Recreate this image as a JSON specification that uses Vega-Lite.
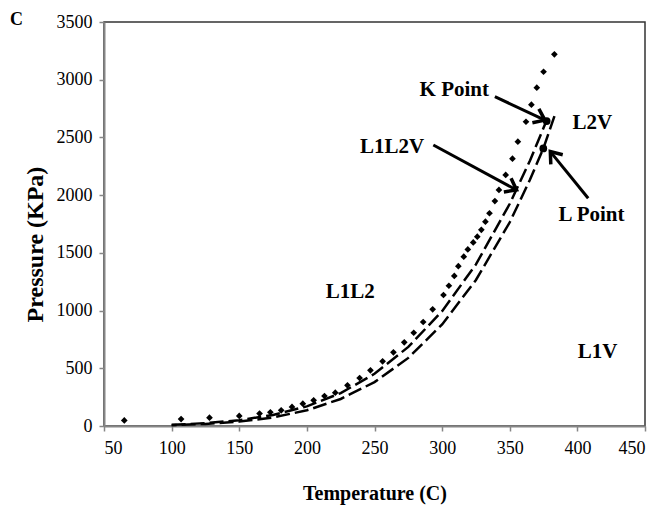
{
  "$schema": "https://vega.github.io/schema/vega-lite/v6.json",
  "width": 541,
  "height": 404,
  "autosize": "none",
  "padding": {"left": 104, "top": 22, "right": 18, "bottom": 87},
  "background": "white",
  "title": {
    "text": "C",
    "anchor": "start",
    "frame": "group",
    "font": "Liberation Serif",
    "fontSize": 18,
    "fontWeight": "bold",
    "color": "black",
    "dx": -94,
    "dy": 20
  },
  "config": {
    "view": {"stroke": "#333333", "strokeWidth": 1.5},
    "axis": {
      "grid": false,
      "domainColor": "#868686",
      "domainWidth": 2,
      "tickColor": "#868686",
      "tickSize": 5,
      "tickWidth": 1.5,
      "labelFont": "Liberation Serif",
      "labelFontSize": 18,
      "labelColor": "black",
      "titleFont": "Liberation Serif",
      "titleFontWeight": "bold",
      "titleColor": "black"
    }
  },
  "datasets": {
    "measured": [
      {"T": 65, "P": 48}, {"T": 107, "P": 60}, {"T": 128, "P": 72}, {"T": 150, "P": 87},
      {"T": 165, "P": 108}, {"T": 173, "P": 119}, {"T": 181, "P": 136}, {"T": 189, "P": 165},
      {"T": 197, "P": 193}, {"T": 205, "P": 222}, {"T": 213, "P": 260}, {"T": 221, "P": 289},
      {"T": 230, "P": 352}, {"T": 239, "P": 416}, {"T": 247, "P": 482}, {"T": 256, "P": 560},
      {"T": 264, "P": 638}, {"T": 272, "P": 725}, {"T": 279, "P": 808}, {"T": 286, "P": 901},
      {"T": 293, "P": 1011}, {"T": 301, "P": 1135}, {"T": 305, "P": 1215}, {"T": 309, "P": 1300},
      {"T": 312, "P": 1385}, {"T": 316, "P": 1467}, {"T": 319, "P": 1530}, {"T": 323, "P": 1590},
      {"T": 326, "P": 1640}, {"T": 329, "P": 1700}, {"T": 332, "P": 1770}, {"T": 335, "P": 1843},
      {"T": 339, "P": 1949}, {"T": 342, "P": 2045}, {"T": 347, "P": 2175}, {"T": 352, "P": 2316},
      {"T": 356, "P": 2463}, {"T": 362, "P": 2636}, {"T": 366, "P": 2784}, {"T": 370, "P": 2931},
      {"T": 375, "P": 3069}, {"T": 383, "P": 3220}
    ],
    "upperCurve": [
      {"T": 100, "P": 10}, {"T": 125, "P": 25}, {"T": 150, "P": 50}, {"T": 175, "P": 96},
      {"T": 200, "P": 170}, {"T": 225, "P": 285}, {"T": 250, "P": 452}, {"T": 275, "P": 685},
      {"T": 300, "P": 995}, {"T": 325, "P": 1400}, {"T": 350, "P": 1925}, {"T": 365, "P": 2300},
      {"T": 377, "P": 2640}
    ],
    "lowerCurve": [
      {"T": 100, "P": 7}, {"T": 125, "P": 18}, {"T": 150, "P": 38}, {"T": 175, "P": 74},
      {"T": 200, "P": 136}, {"T": 225, "P": 234}, {"T": 250, "P": 380}, {"T": 275, "P": 590},
      {"T": 300, "P": 880}, {"T": 325, "P": 1265}, {"T": 350, "P": 1765}, {"T": 365, "P": 2135},
      {"T": 375, "P": 2410}, {"T": 383.5, "P": 2700}
    ],
    "criticalPoints": [
      {"name": "K", "T": 377.3, "P": 2642},
      {"name": "L", "T": 374.8, "P": 2405}
    ],
    "arrows": [
      {"name": "K", "T": 339, "P": 2853, "T2": 376, "P2": 2650},
      {"name": "L1L2V", "T": 293.5, "P": 2434, "T2": 355, "P2": 2045},
      {"name": "L", "T": 408, "P": 1973, "T2": 380, "P2": 2377}
    ],
    "labels": [
      {"text": "K Point", "T": 309, "P": 2911},
      {"text": "L1L2V", "T": 263, "P": 2420},
      {"text": "L2V", "T": 411, "P": 2629},
      {"text": "L Point", "T": 410.5, "P": 1828},
      {"text": "L1L2", "T": 232, "P": 1160},
      {"text": "L1V", "T": 415, "P": 640}
    ]
  },
  "encoding": {
    "x": {
      "field": "T",
      "type": "quantitative",
      "scale": {"domain": [50, 450], "nice": false},
      "axis": {
        "values": [50, 100, 150, 200, 250, 300, 350, 400, 450],
        "format": "d",
        "labelFont": "Liberation Serif",
        "labelFontSize": 18,
        "labelPadding": 8,
        "titleFontSize": 20,
        "titlePadding": 26
      },
      "title": "Temperature (C)"
    },
    "y": {
      "field": "P",
      "type": "quantitative",
      "scale": {"domain": [0, 3500], "nice": false},
      "axis": {
        "values": [0, 500, 1000, 1500, 2000, 2500, 3000, 3500],
        "format": "d",
        "labelFont": "Liberation Serif",
        "labelFontSize": 18,
        "labelPadding": 7,
        "titleFontSize": 24,
        "titleX": -69,
        "titleY": 222,
        "titleBaseline": "middle",
        "titleAlign": "center"
      },
      "title": "Pressure (KPa)"
    }
  },
  "layer": [
    {
      "data": {"name": "upperCurve"},
      "mark": {"type": "line", "color": "black", "strokeWidth": 2.5, "strokeDash": [14, 5]}
    },
    {
      "data": {"name": "lowerCurve"},
      "mark": {"type": "line", "color": "black", "strokeWidth": 2.5, "strokeDash": [14, 5], "strokeDashOffset": 9}
    },
    {
      "data": {"name": "measured"},
      "mark": {"type": "point", "shape": "diamond", "filled": true, "color": "black", "size": 45, "opacity": 1}
    },
    {
      "data": {"name": "criticalPoints"},
      "mark": {"type": "point", "shape": "circle", "filled": true, "color": "black", "size": 60, "opacity": 1}
    },
    {
      "data": {"name": "arrows"},
      "mark": {"type": "rule", "color": "black", "strokeWidth": 3},
      "encoding": {"x2": {"field": "T2"}, "y2": {"field": "P2"}}
    },
    {
      "data": {"name": "arrows"},
      "transform": [{"filter": "datum.name === 'K'"}],
      "mark": {"type": "point", "shape": "M-1,-0.75L0,0L-1,0.75", "filled": false, "stroke": "black", "strokeWidth": 3.5, "size": 420, "angle": 25, "opacity": 1},
      "encoding": {"x": {"field": "T2", "type": "quantitative"}, "y": {"field": "P2", "type": "quantitative"}}
    },
    {
      "data": {"name": "arrows"},
      "transform": [{"filter": "datum.name === 'L1L2V'"}],
      "mark": {"type": "point", "shape": "M-1,-0.75L0,0L-1,0.75", "filled": false, "stroke": "black", "strokeWidth": 3.5, "size": 420, "angle": 28, "opacity": 1},
      "encoding": {"x": {"field": "T2", "type": "quantitative"}, "y": {"field": "P2", "type": "quantitative"}}
    },
    {
      "data": {"name": "arrows"},
      "transform": [{"filter": "datum.name === 'L'"}],
      "mark": {"type": "point", "shape": "M-1,-0.75L0,0L-1,0.75", "filled": false, "stroke": "black", "strokeWidth": 3.5, "size": 420, "angle": 231, "opacity": 1},
      "encoding": {"x": {"field": "T2", "type": "quantitative"}, "y": {"field": "P2", "type": "quantitative"}}
    },
    {
      "data": {"name": "labels"},
      "mark": {"type": "text", "font": "Liberation Serif", "fontSize": 21, "fontWeight": "bold", "color": "black", "align": "center", "baseline": "middle"},
      "encoding": {"text": {"field": "text"}}
    }
  ]
}
